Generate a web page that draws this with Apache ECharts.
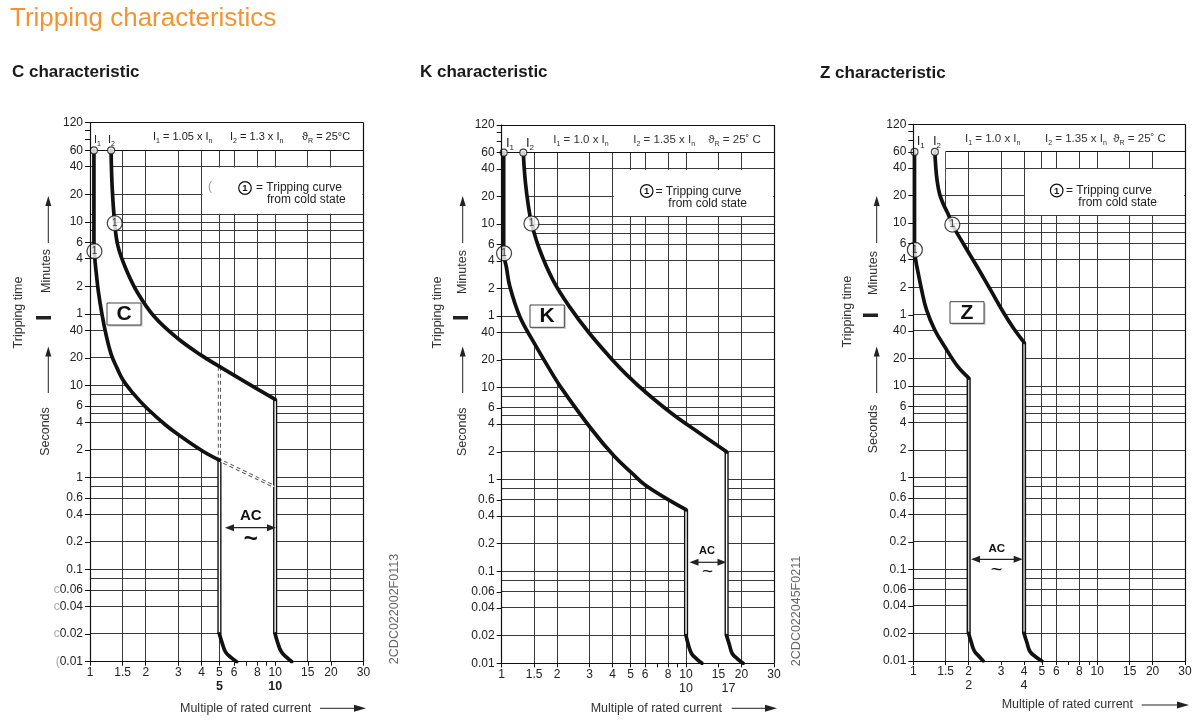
<!DOCTYPE html>
<html>
<head>
<meta charset="utf-8">
<title>Tripping characteristics</title>
<script src="https://cdn.jsdelivr.net/npm/echarts@6.0.0/dist/echarts.min.js"></script>
<style>
html, body { margin:0; padding:0; background:#fff; }
#chart { width:1200px; height:723px; }
</style>
</head>
<body>
<div id="chart"></div>
<script>
// ================= DATA =================
// x: multiple of rated current, y: tripping time in seconds
const xTickLabels = [1, 1.5, 2, 3, 4, 5, 6, 8, 10, 15, 20, 30];
const xTickMarks  = [1, 1.5, 2, 3, 4, 5, 6, 7, 8, 9, 10, 15, 20, 30];
const yTickValues = [7200, 3600, 2400, 1200, 600, 360, 240, 120, 60, 40, 20, 10, 6, 4, 2, 1, 0.6, 0.4, 0.2, 0.1, 0.06, 0.04, 0.02, 0.01];
const yTickLabels = ['120','60','40','20','10','6','4','2','1','40','20','10','6','4','2','1','0.6','0.4','0.2','0.1','0.06','0.04','0.02','0.01'];
const yMinorTicks = [4800, 6000];
const hGridValues = [0.01,0.02,0.04,0.06,0.08,0.1,0.2,0.4,0.6,0.8,1,2,4,5,6,8,10,20,40,60,120,240,360,480,600,720,1200,2400,3600];
const vGridValues = [1.5, 2, 3, 4, 5, 6, 8, 10, 15, 20];

// C characteristic
const cLower = [[1.05,3600],[1.05,400],[1.06,250],[1.08,170],[1.11,105],[1.16,60],[1.22,36],[1.3,22],[1.4,15.5],[1.508,11.5],[1.706,8.28],[2.01,5.78],[2.57,3.71],[3.07,2.84],[4.05,1.95],[5,1.55]];
const cUpper = [[1.3,3600],[1.317,1456],[1.36,580],[1.418,324],[1.572,181],[1.814,101],[2.229,56],[2.97,32.7],[3.96,21.6],[5.28,15.1],[7.34,10.2],[10,7.1]];
const cBottomLeft  = [[5,0.02],[5.18,0.0158],[5.39,0.0128],[5.74,0.0112],[6.2,0.01]];
const cBottomRight = [[10,0.02],[10.35,0.0158],[10.8,0.0128],[11.5,0.0112],[12.3,0.01]];
const cDash  = [[5,16],[5,1.55],[9.9,0.8]];
const cMarks = [[1.057,289],[1.36,582]];
const cSecondRow = [5, 10];

// K characteristic
const kLower = [[1.025,3600],[1.025,290],[1.06,205],[1.108,125],[1.255,59],[1.48,32],[1.78,17],[2.1,10],[3.08,3.5],[4.07,1.8],[5.1,1.17],[6.0,0.87],[8.4,0.57],[10,0.47]];
const kUpper = [[1.31,3600],[1.322,2600],[1.345,1700],[1.39,1000],[1.45,620],[1.608,314],[1.897,148],[2.33,76],[2.99,39],[3.99,20],[4.8,13.6],[6.04,8.9],[8.4,5.2],[11.7,3.25],[16.6,2.0]];
const kBottomLeft  = [[10,0.02],[10.3,0.0158],[10.7,0.0128],[11.4,0.0112],[12.2,0.01]];
const kBottomRight = [[16.6,0.02],[17.2,0.0158],[17.8,0.0128],[19,0.0112],[20.4,0.01]];
const kMarks = [[1.03,289],[1.45,610]];
const kSecondRow = [10, 17];

// Z characteristic
const zLower = [[1.015,3600],[1.015,330],[1.03,240],[1.064,170],[1.11,112],[1.18,68],[1.309,41],[1.48,27],[1.747,16.3],[2,12.3]];
const zUpper = [[1.31,3600],[1.322,2600],[1.345,1800],[1.39,1250],[1.46,960],[1.544,760],[1.63,580],[1.9,340],[2.24,196],[2.644,110],[3.115,62],[3.53,42],[4,30]];
const zBottomLeft  = [[2,0.02],[2.07,0.0158],[2.15,0.0128],[2.28,0.0112],[2.4,0.01]];
const zBottomRight = [[4,0.02],[4.15,0.0158],[4.3,0.0128],[4.6,0.0112],[5.0,0.01]];
const zMarks = [[1.02,307],[1.63,580]];
const zSecondRow = [2, 4];

// ================= LAYOUT / STYLE =================
const FONT = "'Liberation Sans', Arial, Helvetica, sans-serif";
const INK = '#111';
const GRIDC = '#3a3a3a';

const panels = [
  { lower:cLower, upper:cUpper, bl:cBottomLeft, br:cBottomRight, marks:cMarks, dash:cDash, second:cSecondRow,
    grid:{left:90, top:122.7, width:273.5, height:539}, sixtyFrom:1, dblFill:'#fff', bandTop:[], secondBold:true,
    prefix:{'0.06':'c','0.04':'c','0.02':'c','0.01':'('} },
  { lower:kLower, upper:kUpper, bl:kBottomLeft, br:kBottomRight, marks:kMarks, dash:null, second:kSecondRow,
    grid:{left:501.7, top:125, width:272.3, height:538.3}, sixtyFrom:1, dblFill:'#fff', bandTop:[], secondBold:false, prefix:{} },
  { lower:zLower, upper:zUpper, bl:zBottomLeft, br:zBottomRight, marks:zMarks, dash:null, second:zSecondRow,
    grid:{left:913.3, top:124.3, width:271.7, height:536.7}, sixtyFrom:1.5, dblFill:'#cfcfcf',
    bandTop:[[1.345,1800],[1.49,1800],[1.49,3600]], secondBold:false, prefix:{} }
];

function fmtNum(v) { return String(Math.round(v * 1000) / 1000); }
function yLabel(v) {
  const i = yTickValues.findIndex(t => Math.abs(t - v) <= t * 1e-6);
  return i >= 0 ? yTickLabels[i] : '';
}

function segItem(color, width) {
  return function (params, api) {
    let a = api.coord([api.value(0), api.value(1)]);
    let b = api.coord([api.value(2), api.value(3)]);
    if (Math.abs(a[1] - b[1]) < 0.01) { const y = Math.round(a[1] - 0.5) + 0.5; a = [a[0], y]; b = [b[0], y]; }
    if (Math.abs(a[0] - b[0]) < 0.01) { const x = Math.round(a[0] - 0.5) + 0.5; a = [x, a[1]]; b = [x, b[1]]; }
    return { type:'line', shape:{x1:a[0], y1:a[1], x2:b[0], y2:b[1]}, style:{stroke:color, lineWidth:width} };
  };
}

const option = { animation:false, backgroundColor:'#fff', grid:[], xAxis:[], yAxis:[], series:[], graphic:[] };

panels.forEach((p, i) => {
  option.grid.push(Object.assign({}, p.grid));
  const xi = option.xAxis.length;
  option.xAxis.push({
    type:'log', logBase:10, gridIndex:i, min:1, max:30, z:10,
    axisLine:{show:true, onZero:false, lineStyle:{color:INK, width:1.2}},
    axisTick:{show:true, customValues:xTickMarks, length:4, lineStyle:{color:INK, width:1}},
    axisLabel:{show:true, customValues:xTickLabels, formatter:fmtNum, margin:5, fontSize:12, color:'#222', fontFamily:FONT},
    splitLine:{show:false}, minorTick:{show:false}, minorSplitLine:{show:false}
  });
  option.xAxis.push({
    type:'log', logBase:10, gridIndex:i, min:1, max:30, position:'bottom', offset:13.5, z:10,
    axisLine:{show:false, onZero:false}, axisTick:{show:false},
    axisLabel:{show:true, customValues:p.second, formatter:fmtNum, margin:5, fontSize:12.5,
      fontWeight:p.secondBold ? 'bold' : 'normal', color:'#222', fontFamily:FONT},
    splitLine:{show:false}
  });
  option.yAxis.push({
    type:'log', logBase:10, gridIndex:i, min:0.01, max:7200, z:10,
    axisLine:{show:true, onZero:false, lineStyle:{color:INK, width:1.2}},
    axisTick:{show:true, customValues:yTickValues.concat(yMinorTicks), length:5, lineStyle:{color:INK, width:1}},
    axisLabel:{show:true, customValues:yTickValues, margin:7, fontSize:12, color:'#222', fontFamily:FONT,
      formatter:(v) => { const s = yLabel(v); return p.prefix[s] ? '{p|' + p.prefix[s] + '}' + s : s; },
      rich:{p:{color:'#aaa', fontSize:12, fontFamily:FONT}}},
    splitLine:{show:false}
  });
  const base = { xAxisIndex:xi, yAxisIndex:i, silent:true, animation:false };

  // grid lines
  const segs = [];
  hGridValues.forEach(h => segs.push([h === 3600 ? p.sixtyFrom : 1, h, 30, h]));
  vGridValues.forEach(v => segs.push([v, 0.01, v, 3600]));
  option.series.push(Object.assign({}, base, { type:'custom', z:1, data:segs,
    encode:{x:[0,2], y:[1,3]}, renderItem:segItem(GRIDC, 1) }));

  // white band between the two limit curves
  const band = [].concat(p.lower, p.bl, p.br.slice().reverse(), p.upper.slice().reverse(), p.bandTop);
  option.series.push(Object.assign({}, base, { type:'custom', z:2, data:[[1,1]],
    renderItem:(params, api) => ({ type:'polygon', shape:{points:band.map(pt => api.coord(pt))}, style:{fill:'#fff'} }) }));

  // note box (covers grid)
  option.series.push(Object.assign({}, base, { type:'custom', z:2, data:[[4,2400]],
    renderItem:(params, api) => {
      const a = api.coord([4, 2400]), b = api.coord([30, 720]);
      return { type:'rect', shape:{x:a[0] + 1, y:a[1] + 1, width:b[0] - a[0] - 2, height:b[1] - a[1] - 2}, style:{fill:'#fff'} };
    } }));

  // frame: top border, right border, 60 min line
  option.series.push(Object.assign({}, base, { type:'custom', z:3,
    data:[[1,7200,30,7200],[30,7200,30,0.01],[p.sixtyFrom,3600,30,3600]],
    encode:{x:[0,2], y:[1,3]}, renderItem:segItem(INK, 1.2) }));

  // double vertical lines (instantaneous trip limits)
  const lastL = p.lower[p.lower.length - 1], lastU = p.upper[p.upper.length - 1];
  const dbl = [[lastL[0], lastL[1], p.bl[0][1]], [lastU[0], lastU[1], p.br[0][1]]];
  option.series.push(Object.assign({}, base, { type:'custom', z:4, data:dbl, encode:{x:0, y:[1,2]},
    renderItem:(params, api) => {
      const a = api.coord([api.value(0), api.value(1)]), b = api.coord([api.value(0), api.value(2)]);
      return { type:'group', children:[
        { type:'line', shape:{x1:a[0], y1:a[1], x2:b[0], y2:b[1]}, style:{stroke:INK, lineWidth:4.2} },
        { type:'line', shape:{x1:a[0], y1:a[1] + 1.5, x2:b[0], y2:b[1]}, style:{stroke:p.dblFill, lineWidth:1.4} }
      ]};
    } }));

  // dashed (C only)
  if (p.dash) {
    option.series.push(Object.assign({}, base, { type:'line', z:4, data:p.dash, symbol:'none', showSymbol:false,
      lineStyle:{color:'#555', width:3.2, type:[4,3]} }));
    option.series.push(Object.assign({}, base, { type:'line', z:4, data:p.dash, symbol:'none', showSymbol:false,
      lineStyle:{color:'#fff', width:1.2} }));
  }

  // curves
  [p.lower, p.upper, p.bl, p.br].forEach(d => {
    option.series.push(Object.assign({}, base, { type:'line', z:5, data:d, symbol:'none', showSymbol:false,
      smooth:0.4, lineStyle:{color:INK, width:3.7, cap:'round', join:'round'} }));
  });

  // open circles at 60 min
  option.series.push(Object.assign({}, base, { type:'scatter', z:6, data:[p.lower[0], p.upper[0]], symbol:'circle', symbolSize:7,
    itemStyle:{color:'#fff', borderColor:INK, borderWidth:1.1} }));
  // circled "1" markers
  option.series.push(Object.assign({}, base, { type:'scatter', z:6, data:p.marks, symbol:'circle', symbolSize:15,
    itemStyle:{color:'#fff', borderColor:INK, borderWidth:1.2},
    label:{show:true, position:'inside', formatter:'1', fontSize:10, color:INK, fontFamily:FONT} }));
});

// ================= ANNOTATIONS (graphic) =================
const G = [];
function txt(x, y, text, o) {
  o = o || {};
  return { type:'text', x:x, y:y, rotation:o.rot || 0, z:100, silent:true,
    style:{ text:text, fontSize:o.size || 12, fontFamily:FONT, fontWeight:o.weight || 'normal', fill:o.color || '#222',
      align:o.align || 'left', verticalAlign:o.va || 'middle', rich:o.rich } };
}
function subRich(size, color) {
  return {
    a:{fontSize:size, lineHeight:size + 4, fill:color, fontFamily:FONT},
    s:{fontSize:Math.round(size * 0.62), lineHeight:size + 4, verticalAlign:'bottom', fill:color, fontFamily:FONT}
  };
}
function upArrow(x, tip, tail) {
  G.push({ type:'line', z:100, silent:true, shape:{x1:x, y1:tip + 8, x2:x, y2:tail}, style:{stroke:'#222', lineWidth:1} });
  G.push({ type:'polygon', z:100, silent:true, shape:{points:[[x, tip],[x - 3, tip + 10],[x + 3, tip + 10]]}, style:{fill:'#222'} });
}
function rightArrow(x1, x2, y) {
  G.push({ type:'line', z:100, silent:true, shape:{x1:x1, y1:y, x2:x2 - 8, y2:y}, style:{stroke:'#222', lineWidth:1} });
  G.push({ type:'polygon', z:100, silent:true, shape:{points:[[x2, y],[x2 - 12, y - 3.5],[x2 - 12, y + 3.5]]}, style:{fill:'#222'} });
}
function dblArrow(x1, x2, y) {
  G.push({ type:'line', z:100, silent:true, shape:{x1:x1 + 6, y1:y, x2:x2 - 6, y2:y}, style:{stroke:'#222', lineWidth:1.2} });
  G.push({ type:'polygon', z:100, silent:true, shape:{points:[[x1, y],[x1 + 9, y - 3.5],[x1 + 9, y + 3.5]]}, style:{fill:'#222'} });
  G.push({ type:'polygon', z:100, silent:true, shape:{points:[[x2, y],[x2 - 9, y - 3.5],[x2 - 9, y + 3.5]]}, style:{fill:'#222'} });
}
function circ1(cx, cy) {
  G.push({ type:'circle', z:100, silent:true, shape:{cx:cx, cy:cy, r:6.3}, style:{fill:'#fff', stroke:INK, lineWidth:1.2} });
  G.push(txt(cx, cy + 0.5, '1', {size:9.5, weight:'bold', align:'center', color:INK}));
}
function letterBox(x, y, w, h, letter) {
  G.push({ type:'rect', z:99, silent:true, shape:{x:x + 1.5, y:y + 1.5, width:w, height:h}, style:{fill:'#bbb'} });
  G.push({ type:'rect', z:100, silent:true, shape:{x:x, y:y, width:w, height:h}, style:{fill:'#fff', stroke:'#444', lineWidth:1} });
  G.push(txt(x + w / 2, y + h / 2 + 0.5, letter, {size:21, weight:'bold', align:'center', color:INK}));
}

// page title
G.push(txt(10, 19, 'Tripping characteristics', {size:26, color:'#F39433'}));

// panel titles
G.push(txt(12, 72, 'C characteristic', {size:17, weight:'bold', color:'#1a1a1a'}));
G.push(txt(420, 72, 'K characteristic', {size:17, weight:'bold', color:'#1a1a1a'}));
G.push(txt(820, 73, 'Z characteristic', {size:17, weight:'bold', color:'#1a1a1a'}));

// axis side titles
const R = Math.PI / 2;
[[19, 312.5, 46.5, 271, 46, 431.5, 48.3, 36, 316],
 [437.5, 312.5, 463, 272, 463, 431.7, 462.7, 453, 316],
 [847.5, 311.7, 874, 273, 874, 429, 876.7, 863, 313.5]].forEach(s => {
  G.push(txt(s[0], s[1], 'Tripping time', {size:12.5, rot:R, align:'center', color:'#333'}));
  G.push(txt(s[2], s[3], 'Minutes', {size:12.5, rot:R, align:'center', color:'#333'}));
  G.push(txt(s[4], s[5], 'Seconds', {size:12.5, rot:R, align:'center', color:'#333'}));
  upArrow(s[6], 196, 243);
  upArrow(s[6], 346.5, 393);
  G.push({ type:'rect', z:100, silent:true, shape:{x:s[7], y:s[8], width:15, height:3.5}, style:{fill:'#222'} });
});

// x titles
G.push(txt(180, 708.3, 'Multiple of rated current', {size:12.5, color:'#333'}));
rightArrow(320, 366, 708.3);
G.push(txt(590.7, 708.3, 'Multiple of rated current', {size:12.5, color:'#333'}));
rightArrow(731.7, 777, 708.3);
G.push(txt(1001.7, 705, 'Multiple of rated current', {size:12.5, color:'#333'}));
rightArrow(1141.7, 1189, 705);

// document codes
G.push(txt(395, 609, '2CDC022002F0113', {size:12.5, rot:R, align:'center', color:'#666'}));
G.push(txt(797, 611, '2CDC022045F0211', {size:12.5, rot:R, align:'center', color:'#666'}));

// header rows inside plots
const rc = subRich(11, '#222');
G.push(txt(153, 137, '{a|I}{s|1}{a| = 1.05 x I}{s|n}', {rich:rc}));
G.push(txt(230, 137, '{a|I}{s|2}{a| = 1.3 x I}{s|n}', {rich:rc}));
G.push(txt(302, 137, '{a|ϑ}{s|R}{a| = 25°C}', {rich:rc}));
const rk = subRich(11.5, '#333');
G.push(txt(553.3, 140, '{a|I}{s|1}{a| = 1.0 x I}{s|n}', {rich:rk}));
G.push(txt(633.3, 140, '{a|I}{s|2}{a| = 1.35 x I}{s|n}', {rich:rk}));
G.push(txt(708.3, 140, '{a|ϑ}{s|R}{a| = 25˚ C}', {rich:rk}));
G.push(txt(965, 138.5, '{a|I}{s|1}{a| = 1.0 x I}{s|n}', {rich:rk}));
G.push(txt(1045, 138.5, '{a|I}{s|2}{a| = 1.35 x I}{s|n}', {rich:rk}));
G.push(txt(1113.3, 138.5, '{a|ϑ}{s|R}{a| = 25˚ C}', {rich:rk}));

// curve labels I1 / I2
const rl = subRich(11, '#222');
const rl2 = subRich(13, '#222');
G.push(txt(94, 140, '{a|I}{s|1}', {rich:rl}));
G.push(txt(108, 140, '{a|I}{s|2}', {rich:rl}));
G.push(txt(506, 143, '{a|I}{s|1}', {rich:rl2}));
G.push(txt(526, 143, '{a|I}{s|2}', {rich:rl2}));
G.push(txt(916.7, 141, '{a|I}{s|1}', {rich:rl2}));
G.push(txt(933, 141, '{a|I}{s|2}', {rich:rl2}));

// note text
circ1(245, 188);
G.push(txt(256, 188, '= Tripping curve', {size:12}));
G.push(txt(267, 199.5, 'from cold state', {size:12}));
G.push(txt(208, 187, '(', {size:12, color:'#999'}));
circ1(646.7, 191);
G.push(txt(655.5, 191.5, '= Tripping curve', {size:12}));
G.push(txt(668.3, 203.5, 'from cold state', {size:12}));
circ1(1056.7, 190.5);
G.push(txt(1066, 190.5, '= Tripping curve', {size:12}));
G.push(txt(1078.3, 203, 'from cold state', {size:12}));

// letter boxes
letterBox(107, 303, 34, 22, 'C');
letterBox(530, 305, 34.3, 22.3, 'K');
letterBox(950, 301.7, 34, 21.6, 'Z');

// AC annotations
G.push(txt(250.8, 516, 'AC', {size:15, weight:'bold', align:'center', color:INK}));
dblArrow(225, 276, 527.7);
G.push(txt(250.8, 539, '~', {size:24, weight:'bold', align:'center', color:INK}));
G.push(txt(707, 551, 'AC', {size:11, weight:'bold', align:'center', color:INK}));
dblArrow(689.5, 726.5, 562.3);
G.push(txt(707.5, 571.5, '~', {size:19, align:'center', color:INK}));
G.push(txt(996.7, 549, 'AC', {size:11.5, weight:'bold', align:'center', color:INK}));
dblArrow(971, 1022.7, 559.3);
G.push(txt(996.7, 570, '~', {size:20, align:'center', color:INK}));

option.graphic = G;

const chart = echarts.init(document.getElementById('chart'), null, {renderer:'canvas'});
chart.setOption(option);
</script>
</body>
</html>
